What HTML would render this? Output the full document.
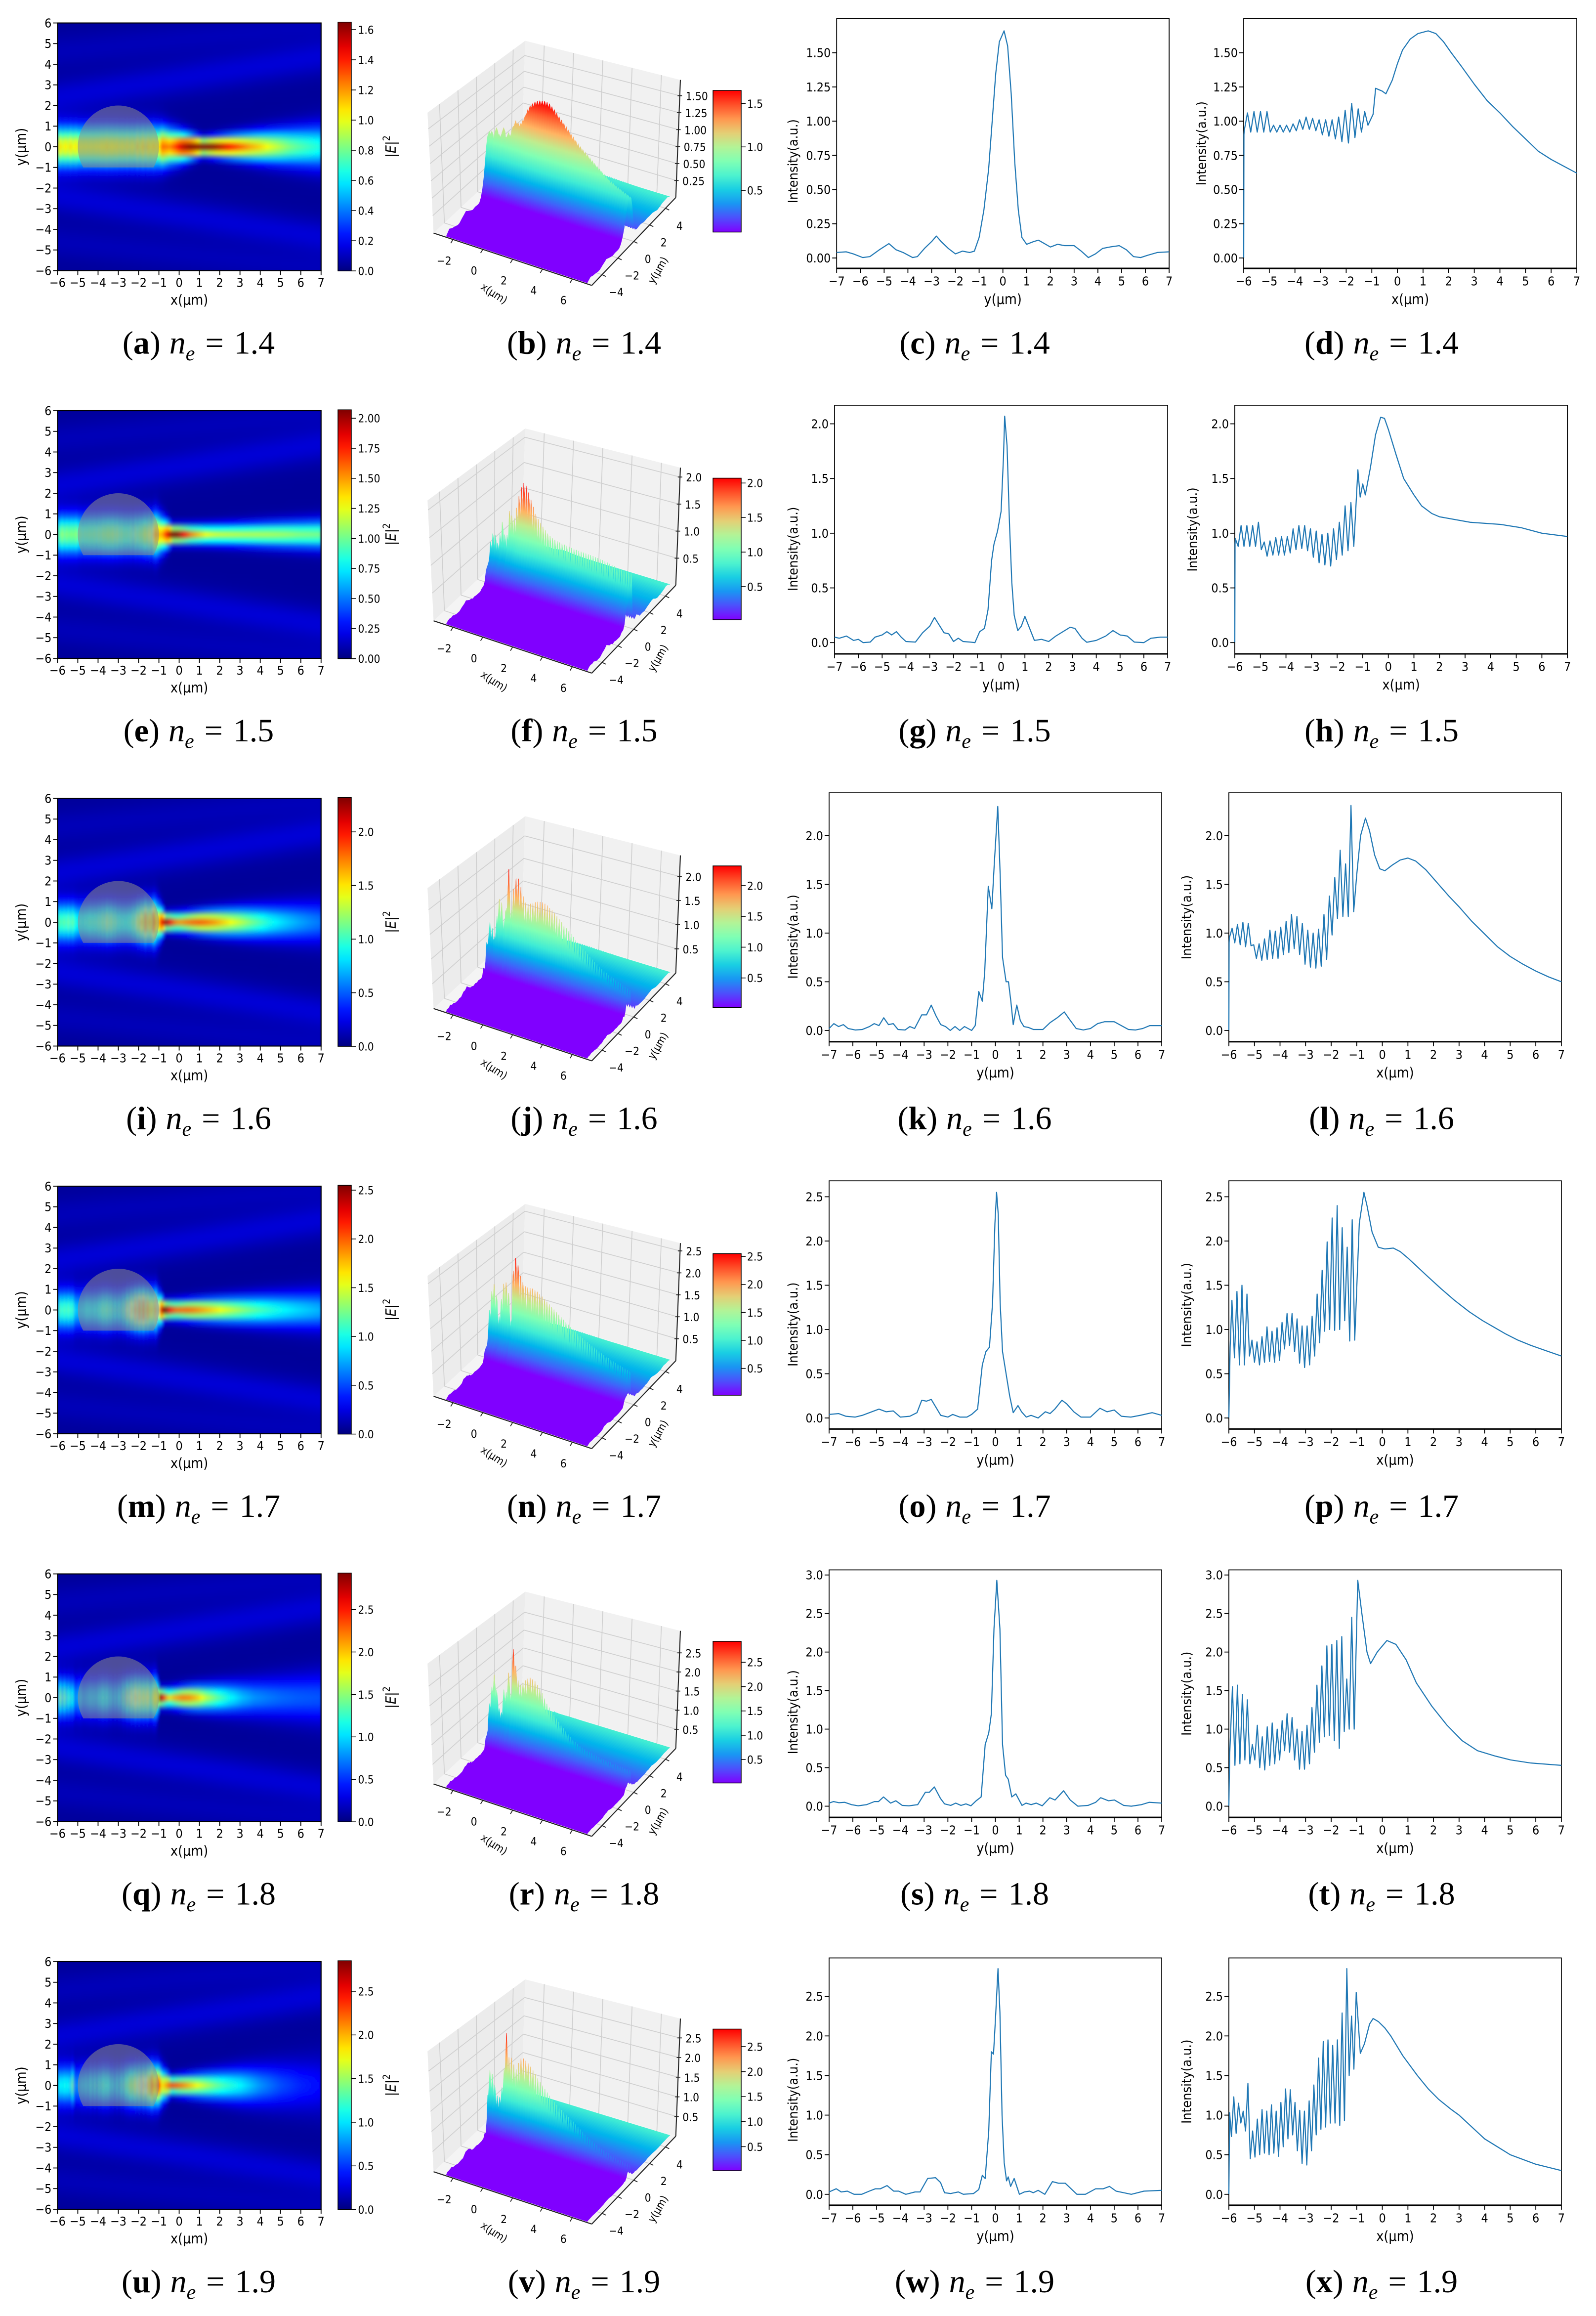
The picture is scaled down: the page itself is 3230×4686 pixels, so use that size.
<!DOCTYPE html>
<html><head><meta charset="utf-8">
<style>
html,body{margin:0;padding:0;background:#fff;}
svg{display:block;}
text{font-family:"DejaVu Sans Condensed","DejaVu Sans","Liberation Sans",sans-serif;fill:#000;}
.cap{font-family:"Liberation Serif",serif;}
</style></head>
<body>
<svg id="fig" xmlns="http://www.w3.org/2000/svg" width="3230" height="4686" viewBox="0 0 1076.667 1562">
<defs id="defs"></defs>
<rect x="0" y="0" width="1076.667" height="1562" fill="#ffffff"/>
</svg>
<script>
// ---------------- DATA ----------------
const neValues = [1.4, 1.5, 1.6, 1.7, 1.8, 1.9];
const captionLetters = [['a','b','c','d'],['e','f','g','h'],['i','j','k','l'],['m','n','o','p'],['q','r','s','t'],['u','v','w','x']];

// transverse profiles (y, intensity) - column c
const profC1 = [[-7,0.04],[-6.6,0.045],[-6.3,0.03],[-5.9,0.003],[-5.6,0.01],[-5.2,0.06],[-4.8,0.105],[-4.5,0.06],[-4.2,0.04],[-3.8,0.003],[-3.6,0.01],[-3.3,0.07],[-3.0,0.12],[-2.8,0.16],[-2.6,0.12],[-2.3,0.07],[-2.0,0.03],[-1.7,0.05],[-1.4,0.04],[-1.2,0.05],[-1.0,0.15],[-0.8,0.35],[-0.6,0.65],[-0.45,1.0],[-0.3,1.35],[-0.15,1.58],[0.05,1.66],[0.2,1.55],[0.35,1.2],[0.5,0.7],[0.65,0.35],[0.8,0.15],[1.0,0.1],[1.3,0.12],[1.5,0.13],[1.7,0.11],[2.0,0.08],[2.3,0.1],[2.6,0.09],[3.0,0.09],[3.3,0.05],[3.6,0.003],[3.9,0.03],[4.2,0.07],[4.5,0.08],[4.9,0.09],[5.2,0.06],[5.5,0.01],[5.8,0.003],[6.1,0.02],[6.5,0.04],[7,0.045]];
const profC2 = [[-7,0.05],[-6.8,0.04],[-6.5,0.06],[-6.2,0.02],[-6.0,0.03],[-5.8,0.0],[-5.5,0.005],[-5.3,0.05],[-5.0,0.07],[-4.8,0.1],[-4.6,0.07],[-4.4,0.1],[-4.2,0.05],[-4.0,0.01],[-3.6,0.005],[-3.3,0.09],[-3.0,0.15],[-2.8,0.23],[-2.6,0.16],[-2.4,0.09],[-2.2,0.08],[-2.0,0.01],[-1.8,0.04],[-1.6,0.01],[-1.3,0.005],[-1.1,0.0],[-0.9,0.1],[-0.7,0.13],[-0.55,0.3],[-0.4,0.75],[-0.3,0.9],[-0.15,1.02],[0.0,1.2],[0.1,1.7],[0.15,2.07],[0.25,1.8],[0.35,1.1],[0.45,0.55],[0.55,0.25],[0.7,0.11],[0.85,0.15],[1.0,0.24],[1.2,0.13],[1.4,0.02],[1.7,0.03],[2.0,0.01],[2.3,0.06],[2.6,0.1],[2.9,0.14],[3.1,0.13],[3.4,0.04],[3.6,0.003],[4.0,0.02],[4.4,0.06],[4.7,0.11],[5.0,0.07],[5.3,0.06],[5.6,0.005],[6.0,0.0],[6.3,0.04],[6.7,0.05],[7,0.05]];
const profC3 = [[-7,0.02],[-6.8,0.07],[-6.6,0.04],[-6.4,0.06],[-6.2,0.02],[-5.9,0.005],[-5.6,0.01],[-5.3,0.04],[-5.1,0.07],[-4.9,0.05],[-4.7,0.13],[-4.5,0.06],[-4.3,0.07],[-4.1,0.01],[-3.8,0.005],[-3.6,0.04],[-3.4,0.02],[-3.1,0.16],[-2.9,0.16],[-2.7,0.26],[-2.5,0.15],[-2.3,0.06],[-2.1,0.04],[-1.9,0.0],[-1.7,0.04],[-1.5,0.0],[-1.3,0.04],[-1.0,0.0],[-0.85,0.05],[-0.7,0.4],[-0.55,0.3],[-0.45,0.6],[-0.3,1.48],[-0.15,1.25],[-0.05,1.7],[0.1,2.3],[0.2,1.6],[0.3,0.75],[0.45,0.5],[0.55,0.5],[0.65,0.3],[0.75,0.06],[0.9,0.26],[1.05,0.1],[1.2,0.04],[1.4,0.03],[1.6,0.01],[2.0,0.01],[2.3,0.08],[2.6,0.13],[2.9,0.19],[3.1,0.12],[3.4,0.02],[3.7,0.005],[4.0,0.02],[4.3,0.07],[4.6,0.09],[5.0,0.09],[5.3,0.05],[5.6,0.01],[5.9,0.005],[6.2,0.02],[6.5,0.05],[7,0.05]];
const profC4 = [[-7,0.04],[-6.6,0.05],[-6.3,0.02],[-5.9,0.01],[-5.6,0.03],[-5.2,0.07],[-4.9,0.1],[-4.6,0.07],[-4.3,0.08],[-4.0,0.01],[-3.6,0.02],[-3.3,0.06],[-3.1,0.2],[-2.9,0.19],[-2.7,0.21],[-2.5,0.12],[-2.3,0.03],[-2.0,0.01],[-1.8,0.04],[-1.5,0.01],[-1.2,0.01],[-1.0,0.04],[-0.75,0.1],[-0.55,0.6],[-0.4,0.75],[-0.25,0.8],[-0.12,1.3],[-0.02,2.2],[0.05,2.55],[0.12,2.3],[0.2,1.3],[0.3,0.75],[0.45,0.5],[0.6,0.25],[0.75,0.06],[0.95,0.14],[1.1,0.07],[1.3,0.01],[1.5,0.03],[1.8,0.0],[2.1,0.07],[2.3,0.05],[2.5,0.1],[2.8,0.2],[3.0,0.16],[3.3,0.07],[3.6,0.01],[4.0,0.01],[4.4,0.11],[4.7,0.07],[5.0,0.09],[5.3,0.02],[5.7,0.01],[6.1,0.03],[6.6,0.06],[7,0.03]];
const profC5 = [[-7,0.04],[-6.81,0.06],[-6.59,0.045],[-6.34,0.05],[-6.06,0.02],[-5.78,0.005],[-5.42,0.02],[-5.09,0.06],[-4.92,0.06],[-4.71,0.12],[-4.41,0.04],[-4.19,0.07],[-3.92,0.01],[-3.64,0.005],[-3.27,0.02],[-2.95,0.18],[-2.78,0.18],[-2.57,0.25],[-2.31,0.1],[-2.14,0.03],[-1.88,0.01],[-1.67,0.04],[-1.45,0.01],[-1.24,0.03],[-1.03,0.005],[-0.81,0.07],[-0.6,0.12],[-0.43,0.8],[-0.28,0.95],[-0.17,1.2],[-0.06,2.3],[0.06,2.93],[0.19,2.3],[0.3,0.8],[0.43,0.4],[0.54,0.35],[0.69,0.12],[0.86,0.16],[1.12,0.01],[1.29,0.04],[1.5,0.02],[1.72,0.04],[1.97,0.005],[2.29,0.11],[2.51,0.08],[2.87,0.2],[3.15,0.08],[3.47,0.0],[3.9,0.01],[4.22,0.05],[4.43,0.11],[4.76,0.07],[5.01,0.08],[5.4,0.01],[5.72,0.0],[6.15,0.02],[6.47,0.05],[7,0.04]];
const profC6 = [[-7,0.03],[-6.7,0.07],[-6.49,0.03],[-6.23,0.04],[-5.95,0.0],[-5.63,0.0],[-5.31,0.04],[-5.05,0.07],[-4.84,0.07],[-4.56,0.11],[-4.28,0.04],[-4.07,0.04],[-3.77,0.0],[-3.38,0.03],[-3.17,0.03],[-2.85,0.2],[-2.52,0.21],[-2.31,0.15],[-2.14,0.02],[-1.88,0.01],[-1.56,0.03],[-1.35,0.0],[-0.92,0.01],[-0.7,0.06],[-0.55,0.24],[-0.43,0.2],[-0.28,0.8],[-0.17,1.8],[-0.08,1.77],[0.0,2.2],[0.11,2.85],[0.19,2.3],[0.28,1.0],[0.37,0.4],[0.47,0.17],[0.54,0.22],[0.64,0.1],[0.79,0.2],[1.01,0.0],[1.22,0.03],[1.44,0.04],[1.59,0.02],[1.8,0.05],[2.08,0.0],[2.4,0.16],[2.66,0.14],[2.94,0.14],[3.15,0.08],[3.43,0.0],[3.79,0.0],[4.22,0.07],[4.54,0.07],[4.8,0.1],[5.08,0.04],[5.4,0.02],[5.72,0.0],[6.25,0.04],[7,0.05]];

// longitudinal profiles - column d: head points, oscillation extremes (evenly spread over range), tail points
const dHead1 = [[-6,0],[-5.99,0.9]];
const dOsc1 = [0.93,1.06,0.92,1.07,0.92,1.07,0.92,1.07,0.92,0.97,0.92,0.97,0.92,0.97,0.92,0.98,0.93,1.01,0.94,1.03,0.94,1.02,0.93,1.01,0.90,1.01,0.89,1.01,0.87,1.03,0.85,1.08,0.84,1.13,0.88,1.09,0.92,1.07,0.97];
const dOscRange1 = [-5.98,-1.15];
const dTail1 = [[-0.95,1.05],[-0.85,1.24],[-0.6,1.22],[-0.45,1.2],[-0.2,1.3],[0,1.42],[0.2,1.52],[0.5,1.6],[0.8,1.64],[1.2,1.66],[1.5,1.64],[1.8,1.58],[2.1,1.5],[2.5,1.4],[3,1.27],[3.5,1.15],[4,1.06],[4.5,0.96],[5,0.87],[5.5,0.78],[6,0.72],[6.5,0.67],[7,0.62]];

const dHead2 = [[-6,0],[-5.99,0.9]];
const dOsc2 = [0.95,0.88,1.07,0.88,1.07,0.88,1.07,0.88,1.1,0.85,0.92,0.79,0.93,0.8,0.96,0.8,0.97,0.8,0.97,0.82,1.04,0.85,1.07,0.86,1.07,0.84,1.04,0.78,1.02,0.73,0.99,0.71,1.0,0.7,1.04,0.76,1.1,0.8,1.25,0.84,1.28,0.88];
const dOscRange2 = [-5.98,-1.35];
const dTail2 = [[-1.19,1.58],[-1.1,1.33],[-1.0,1.45],[-0.9,1.35],[-0.7,1.6],[-0.5,1.9],[-0.3,2.06],[-0.15,2.05],[0,1.95],[0.3,1.72],[0.6,1.5],[1.0,1.35],[1.3,1.25],[1.7,1.18],[2.0,1.15],[3.2,1.1],[4.4,1.08],[5.2,1.05],[6,1.0],[7,0.97]];

const dHead3 = [[-6,0],[-5.99,0.9]];
const dOsc3 = [0.95,1.05,0.9,1.09,0.88,1.11,0.86,1.1,0.87,0.88,0.74,0.89,0.72,0.94,0.73,1.03,0.74,1.02,0.74,1.06,0.78,1.12,0.8,1.19,0.84,1.17,0.78,1.1,0.68,1.03,0.65,1.0,0.64,1.04,0.66,1.19,0.73,1.38,0.98,1.57,1.15,1.85,1.17,1.71,1.17,2.31,1.22];
const dOscRange3 = [-5.98,-1.12];
const dTail3 = [[-1.0,1.6],[-0.85,2.0],[-0.66,2.18],[-0.5,2.05],[-0.3,1.8],[-0.1,1.66],[0.1,1.64],[0.4,1.7],[0.7,1.75],[1.0,1.77],[1.3,1.74],[1.7,1.65],[2.2,1.5],[2.6,1.38],[3,1.27],[3.5,1.12],[4,0.99],[4.5,0.86],[5,0.76],[5.5,0.68],[6,0.61],[6.5,0.55],[7,0.5]];

const dHead4 = [[-6,0],[-5.95,0.8]];
const dOsc4 = [1.33,0.68,1.43,0.6,1.5,0.6,1.4,0.7,0.88,0.63,0.86,0.6,0.92,0.63,1.03,0.64,0.98,0.63,1.02,0.65,1.08,0.78,1.18,0.82,1.18,0.75,1.12,0.62,1.04,0.57,1.04,0.6,1.15,0.7,1.4,0.85,1.67,0.98,1.99,1.0,2.26,0.99,2.4,1.0,2.15,1.1,1.93,0.87,2.24,0.88];
const dOscRange4 = [-5.88,-1.08];
const dTail4 = [[-0.9,2.2],[-0.72,2.55],[-0.6,2.4],[-0.4,2.1],[-0.16,1.93],[0.1,1.91],[0.43,1.92],[0.7,1.88],[1.03,1.8],[1.4,1.7],[1.77,1.6],[2.3,1.46],[2.82,1.33],[3.4,1.2],[3.92,1.1],[4.4,1.02],[4.82,0.95],[5.3,0.88],[5.81,0.82],[6.4,0.76],[7,0.7]];

const dHead5 = [[-6,0],[-5.97,0.65]];
const dOsc5 = [1.55,0.53,1.57,0.55,1.45,0.6,1.38,0.55,0.8,0.6,1.05,0.5,0.9,0.47,1.03,0.53,1.08,0.55,1.0,0.6,1.11,0.72,1.2,0.7,1.15,0.6,1.0,0.48,0.97,0.48,1.05,0.55,1.28,0.7,1.57,0.83,1.82,0.9,2.08,0.92,2.1,0.85,2.15,0.75,2.2,0.97,1.65,1.0,2.45,1.0];
const dOscRange5 = [-5.86,-1.1];
const dTail5 = [[-0.96,2.93],[-0.8,2.5],[-0.6,2.0],[-0.46,1.85],[-0.2,2.0],[0.18,2.15],[0.53,2.1],[0.93,1.9],[1.33,1.6],[1.93,1.3],[2.53,1.05],[3.12,0.85],[3.72,0.72],[4.42,0.65],[5.02,0.6],[5.81,0.56],[7,0.53]];

const dHead6 = [[-6,0],[-5.97,1.03]];
const dOsc6 = [0.73,1.23,0.77,1.15,0.9,1.05,0.8,1.4,0.45,0.8,0.47,0.95,0.5,1.07,0.52,1.05,0.5,1.13,0.52,1.05,0.48,1.16,0.6,1.33,0.7,1.32,0.75,1.16,0.55,1.06,0.39,1.05,0.37,1.18,0.55,1.38,0.75,1.72,0.82,1.93,0.85,1.95,0.9,1.88,0.9,1.95,0.87,2.29,0.93,2.85,1.5,2.25,1.58,2.55];
const dOscRange6 = [-5.9,-1.02];
const dTail6 = [[-0.86,1.78],[-0.7,1.9],[-0.5,2.15],[-0.36,2.22],[-0.15,2.18],[0.1,2.1],[0.33,2.0],[0.8,1.75],[1.37,1.5],[1.8,1.33],[2.2,1.2],[2.7,1.07],[3.0,1.0],[3.5,0.85],[4,0.7],[4.5,0.6],[5,0.5],[5.5,0.44],[6,0.38],[6.5,0.34],[7,0.3]];

// colour-scale maxima of the |E|^2 maps
const mapMax = [1.65, 2.07, 2.32, 2.55, 2.93, 2.85];
// tick specs [step, decimals, max]
const cdTickSpec = [[0.25,2,1.5],[0.5,1,2.0],[0.5,1,2.0],[0.5,1,2.5],[0.5,1,3.0],[0.5,1,2.5]];
const cbarTickSpec = [[0.2,1,1.6],[0.25,2,2.0],[0.5,1,2.0],[0.5,1,2.5],[0.5,1,2.5],[0.5,1,2.5]];
const zTickSpec = [[0.25,2,0.25,1.5],[0.5,1,0.5,2.0],[0.5,1,0.5,2.0],[0.5,1,0.5,2.5],[0.5,1,0.5,2.5],[0.5,1,0.5,2.5]];
const cbar3Ticks = [[0.5,1.0,1.5],[0.5,1.0,1.5,2.0],[0.5,1.0,1.5,2.0],[0.5,1.0,1.5,2.0,2.5],[0.5,1.0,1.5,2.0,2.5],[0.5,1.0,1.5,2.0,2.5]];
const beamSpread = [0.11,0.04,0.08,0.07,0.1,0.13];

// ---------------- LAYOUT (positions in 1/3-scale units) ----------------
const cdLayout = [
  {cx:[564.4,788.7], dx:[839,1063.7], top:12.4, bot:181, ylim:[-0.076,1.751]},
  {cx:[563,787.7], dx:[833,1057.4], top:273.3, bot:441, ylim:[-0.103,2.17]},
  {cx:[559.3,783.7], dx:[829,1053.3], top:534.7, bot:702.6, ylim:[-0.116,2.44]},
  {cx:[559.3,783.7], dx:[829,1053.3], top:796.4, bot:963.8, ylim:[-0.125,2.68]},
  {cx:[559.3,783.7], dx:[829,1053.3], top:1058.8, bot:1225.7, ylim:[-0.145,3.066]},
  {cx:[559.3,783.7], dx:[829,1053.3], top:1320.5, bot:1487.3, ylim:[-0.138,2.985]}
];
const profC = [profC1,profC2,profC3,profC4,profC5,profC6];
const dParts = [[dHead1,dOsc1,dOscRange1,dTail1],[dHead2,dOsc2,dOscRange2,dTail2],[dHead3,dOsc3,dOscRange3,dTail3],[dHead4,dOsc4,dOscRange4,dTail4],[dHead5,dOsc5,dOscRange5,dTail5],[dHead6,dOsc6,dOscRange6,dTail6]];

// ---------------- HELPERS ----------------
const NS = 'http://www.w3.org/2000/svg';
const svg = document.getElementById('fig');
const defs = document.getElementById('defs');
let gid = 0;
function raw(tag, parent, attrs){
  const el = document.createElementNS(NS, tag);
  for (const k in attrs) el.setAttribute(k, attrs[k]);
  parent.appendChild(el); return el;
}
function mk(tag, parent, name, attrs){
  const el = document.createElementNS(NS, tag);
  
  
  for (const k in attrs) el.setAttribute(k, attrs[k]);
  parent.appendChild(el); return el;
}
function txt(parent, name, x, y, s, size, anchor, extra){
  const el = document.createElementNS(NS, 'text');
  
  
  el.setAttribute('x', x); el.setAttribute('y', y);
  el.setAttribute('font-size', size);
  el.setAttribute('text-anchor', anchor || 'middle');
  if (extra) for (const k in extra) el.setAttribute(k, extra[k]);
  el.textContent = s; parent.appendChild(el); return el;
}
function fmt(v, d){ const s = Math.abs(v).toFixed(d); return (v < -1e-9 ? '\u2212' : '') + s; }
function clamp(v){ return Math.max(0, Math.min(1, v)); }
function jet(t){
  t = clamp(t);
  const r = clamp(Math.min(4*t-1.5, -4*t+4.5));
  const g = clamp(Math.min(4*t-0.5, -4*t+3.5));
  const b = clamp(Math.min(4*t+0.5, -4*t+2.5));
  return 'rgb(' + Math.round(r*255) + ',' + Math.round(g*255) + ',' + Math.round(b*255) + ')';
}
function rainbow(t){
  t = clamp(t);
  const r = clamp(Math.abs(2*t-0.5)), g = clamp(Math.sin(Math.PI*t)), b = clamp(Math.cos(Math.PI*t/2));
  return 'rgb(' + Math.round(r*255) + ',' + Math.round(g*255) + ',' + Math.round(b*255) + ')';
}
function interp(pts, x){
  if (x <= pts[0][0]) return pts[0][1];
  for (let i = 1; i < pts.length; i++){
    if (x <= pts[i][0]){
      const a = pts[i-1], b = pts[i];
      return a[1] + (b[1]-a[1]) * (x-a[0]) / (b[0]-a[0]);
    }
  }
  return pts[pts.length-1][1];
}
function buildD(head, osc, range, tail){
  const pts = head.slice();
  const n = osc.length;
  for (let i = 0; i < n; i++) pts.push([range[0] + (range[1]-range[0]) * i/(n-1), osc[i]]);
  return pts.concat(tail);
}
function ticksFrom(step, dec, mx, start){
  const out = []; let v = start || 0;
  while (v <= mx + 1e-9){ out.push([v, fmt(v, dec)]); v += step; }
  return out;
}

// ---------------- DRAW ----------------
for (let k = 0; k < 6; k++){
  const rowTop = 15.5 + 261.5*k;
  const row = mk('g', svg, 'row-ne-' + neValues[k], {});
  const dPts = buildD(...dParts[k]);
  const cPts = profC[k];
  const vmax = mapMax[k];

  // ---- panel a: field map ----
  {
    const pa = mk('g', row, 'field-map-panel', {});
    const X0 = 38.8, X1 = 216.6, Y0 = rowTop, Y1 = rowTop + 167;
    const sx = x => X0 + (x+6)/13*(X1-X0);
    const sy = y => Y0 + (6-y)/12*(Y1-Y0);
    const cid = 'clipA' + k;
    const cp = raw('clipPath', defs, {id: cid});
    raw('rect', cp, {x:X0, y:Y0, width:X1-X0, height:Y1-Y0});
    const fid = 'blurA' + k;
    const fl = raw('filter', defs, {id: fid, x:'-5%', y:'-5%', width:'110%', height:'110%'});
    raw('feGaussianBlur', fl, {stdDeviation: '0.9'});
    const clipG = mk('g', pa, 'field-map-area', {'clip-path':'url(#' + cid + ')'});
    mk('rect', clipG, 'field-map-background', {x:X0, y:Y0, width:X1-X0, height:Y1-Y0, fill: jet(0.03)});
    const heat = mk('g', clipG, 'field-map-heat', {filter:'url(#' + fid + ')'});
    let fx = dParts[k][3][0][0], fv = -1;
    for (const p of dParts[k][3]) if (p[1] > fv){ fv = p[1]; fx = p[0]; }
    const xa = -1.1;
    for (let x = -6; x < 7 - 1e-9; x += 0.1){
      const xc = x + 0.05;
      const dv = interp(dPts, xc);
      let w;
      if (xc < xa) w = 0.95;
      else if (xc < fx) w = 0.95 + (0.35-0.95) * (xc-xa)/(fx-xa);
      else w = 0.35 + beamSpread[k]*(xc-fx);
      const gidS = 'hg' + (gid++);
      const lg = raw('linearGradient', defs, {id:gidS, gradientUnits:'userSpaceOnUse', x1:0, y1:Y0, x2:0, y2:Y1});
      for (let yy = 6; yy >= -6.001; yy -= 0.3){
        const lobeC1 = 2.4 + 0.15*(xc+6), lobeC2 = 4.6 + 0.1*(xc+6);
        const lob = 0.06*vmax*(Math.exp(-Math.pow((Math.abs(yy)-lobeC1)/0.8,2))) + 0.03*vmax*(Math.exp(-Math.pow((Math.abs(yy)-lobeC2)/0.8,2)));
        const I = dv*Math.exp(-Math.pow(yy/w,2)) + lob + 0.025*vmax;
        raw('stop', lg, {offset: ((6-yy)/12).toFixed(4), 'stop-color': jet(I/vmax)});
      }
      mk('rect', heat, 'field-column', {x: sx(x)-0.15, y: Y0-3, width: sx(x+0.1)-sx(x)+0.3, height: Y1-Y0+6, fill:'url(#' + gidS + ')'});
    }
    const lx1 = -3 - Math.sqrt(3), lx2 = -3 + Math.sqrt(3);
    const rx = 2/13*(X1-X0), ry = 2/12*(Y1-Y0);
    mk('path', clipG, 'lens-overlay', {d:'M' + sx(lx1) + ',' + sy(-1) + ' A' + rx + ',' + ry + ' 0 1 1 ' + sx(lx2) + ',' + sy(-1) + ' Z', fill:'rgba(140,140,140,0.55)'});
    mk('rect', pa, 'field-map-frame', {x:X0, y:Y0, width:X1-X0, height:Y1-Y0, fill:'none', stroke:'#000', 'stroke-width':0.7});
    const ax = mk('g', pa, 'field-map-x-axis', {});
    for (let t = -6; t <= 7; t++){
      mk('line', ax, 'x-tick', {x1:sx(t), x2:sx(t), y1:Y1, y2:Y1+3, stroke:'#000', 'stroke-width':0.6});
      txt(ax, 'x-tick-label', sx(t), Y1+11, fmt(t,0), 8.3);
    }
    txt(ax, 'x-axis-title', (X0+X1)/2, Y1+23, 'x(\u03bcm)', 9.5);
    const ay = mk('g', pa, 'field-map-y-axis', {});
    for (let t = -6; t <= 6; t++){
      mk('line', ay, 'y-tick', {x1:X0-3, x2:X0, y1:sy(t), y2:sy(t), stroke:'#000', 'stroke-width':0.6});
      txt(ay, 'y-tick-label', X0-4, sy(t)+3, fmt(t,0), 8.3, 'end');
    }
    txt(ay, 'y-axis-title', 17.5, (Y0+Y1)/2, 'y(\u03bcm)', 9.5, 'middle', {transform:'rotate(-90 17.5 ' + ((Y0+Y1)/2) + ')'});
    const cb = mk('g', pa, 'field-colorbar', {});
    const CB0 = rowTop - 0.6, CB1 = rowTop + 167.2;
    const cgid = 'cbj' + k;
    const cg = raw('linearGradient', defs, {id:cgid, x1:0, y1:1, x2:0, y2:0});
    for (let i = 0; i <= 20; i++) raw('stop', cg, {offset: i/20, 'stop-color': jet(i/20)});
    mk('rect', cb, 'colorbar-gradient', {x:228, y:CB0, width:9, height:CB1-CB0, fill:'url(#' + cgid + ')', stroke:'#000', 'stroke-width':0.5});
    const spec = cbarTickSpec[k];
    for (const [v, lab] of ticksFrom(spec[0], spec[1], spec[2])){
      const yy = CB1 - v/vmax*(CB1-CB0);
      mk('line', cb, 'colorbar-tick', {x1:237, x2:240, y1:yy, y2:yy, stroke:'#000', 'stroke-width':0.5});
      txt(cb, 'colorbar-tick-label', 241.5, yy+2.8, lab, 7.5, 'start');
    }
    const lt = txt(cb, 'colorbar-title', 267, (CB0+CB1)/2, '', 9.5, 'middle', {transform:'rotate(-90 267 ' + ((CB0+CB1)/2) + ')'});
    lt.innerHTML = '|<tspan font-style="italic">E</tspan>|<tspan font-size="6.5" dy="-4">2</tspan>';
  }

  // ---- panel b: 3D surface ----
  {
    const pb = mk('g', row, 'surface-3d-panel', {});
    const R = (p) => [p[0], p[1] + rowTop];
    const FL = R([292.5,141.7]), F = R([399.2,177]), RF = R([455.9,117.7]), BK = R([352,86]);
    const L = R([288.4,60.5]), FT = R([400.5,97]), RT = R([459,38.4]), T = R([354.3,12]);
    const xmin=-3.3, xmax=7.3, ymin=-5.3, ymax=5.3;
    const ztop = vmax*1.05;
    const bil = (A,B,C,D,u,v) => [ (1-u)*(1-v)*A[0]+u*(1-v)*B[0]+u*v*C[0]+(1-u)*v*D[0], (1-u)*(1-v)*A[1]+u*(1-v)*B[1]+u*v*C[1]+(1-u)*v*D[1] ];
    const P = (x,y,z) => {
      const u=(x-xmin)/(xmax-xmin), v=(y-ymin)/(ymax-ymin);
      const f = bil(FL,F,RF,BK,u,v), t = bil(L,FT,RT,T,u,v);
      const s = z/ztop; return [f[0]+(t[0]-f[0])*s, f[1]+(t[1]-f[1])*s];
    };
    const poly = pts => pts.map(p => p[0].toFixed(2) + ',' + p[1].toFixed(2)).join(' ');
    mk('polygon', pb, 'left-pane', {points: poly([FL,BK,T,L]), fill:'#ececec'});
    mk('polygon', pb, 'back-pane', {points: poly([BK,RF,RT,T]), fill:'#f1f1f1'});
    mk('polygon', pb, 'floor-pane', {points: poly([FL,F,RF,BK]), fill:'#f4f4f4'});
    const grid = mk('g', pb, 'pane-grid', {stroke:'#cfcfcf', 'stroke-width':0.55, fill:'none'});
    const xt = [-2,0,2,4,6], yt = [-4,-2,0,2,4];
    const zs = zTickSpec[k]; const zt = ticksFrom(zs[0], zs[1], zs[3], zs[2]);
    const ln = (a,b,n) => mk('line', grid, n, {x1:a[0], y1:a[1], x2:b[0], y2:b[1]});
    for (const x of xt){ ln(P(x,ymin,0),P(x,ymax,0),'floor-grid-line'); ln(P(x,ymax,0),P(x,ymax,ztop),'back-grid-line'); }
    for (const y of yt){ ln(P(xmin,y,0),P(xmax,y,0),'floor-grid-line'); ln(P(xmin,y,0),P(xmin,y,ztop),'left-grid-line'); }
    for (const [z] of zt){ ln(P(xmin,ymin,z),P(xmin,ymax,z),'left-grid-line'); ln(P(xmin,ymax,z),P(xmax,ymax,z),'back-grid-line'); }
    // surface strips (back to front)
    const surf = mk('g', pb, 'surface', {});
    let cmax = 0; for (const p of cPts) cmax = Math.max(cmax, p[1]);
    const ys = [-5.2];
    for (const p of cPts){ if (p[0] > -5.2 && p[0] < 5.2) ys.push(p[0]); }
    ys.push(5.2);
    const zOf = (x, y) => { if (Math.abs(y) >= 5.19) return 0; return interp(dPts, x) * interp(cPts, y) / cmax; };
    let prev = null;
    for (let x = -2.5; x <= 7.001; x += 0.16){
      const cur = ys.map(y => P(x, y, zOf(x, y)));
      if (prev){
        const pts = cur.concat(prev.slice().reverse());
        const b0 = P(x,0,0), b1 = P(x,0,vmax);
        const sid = 'sg' + (gid++);
        const lg = raw('linearGradient', defs, {id:sid, gradientUnits:'userSpaceOnUse', x1:0, y1:b0[1], x2:0, y2:b1[1]});
        for (let i = 0; i <= 8; i++) raw('stop', lg, {offset: i/8, 'stop-color': rainbow(i/8)});
        mk('polygon', surf, 'surface-strip', {points: poly(pts), fill:'url(#' + sid + ')', stroke:'url(#' + sid + ')', 'stroke-width':0.3});
      }
      prev = cur;
    }
    const ed = mk('g', pb, 'axis-edges', {stroke:'#222', 'stroke-width':0.7});
    mk('line', ed, 'x-axis-edge', {x1:FL[0], y1:FL[1], x2:F[0], y2:F[1]});
    mk('line', ed, 'y-axis-edge', {x1:F[0], y1:F[1], x2:RF[0], y2:RF[1]});
    mk('line', ed, 'z-axis-edge', {x1:RF[0], y1:RF[1], x2:RT[0], y2:RT[1]});
    const lb = mk('g', pb, 'surface-axis-labels', {});
    for (const x of xt){ const p = P(x,ymin,0);
      mk('line', lb, 'x-tick', {x1:p[0], y1:p[1], x2:p[0]-1.5, y2:p[1]+2.5, stroke:'#222', 'stroke-width':0.6});
      txt(lb, 'x-tick-label', p[0]-6, p[1]+17, fmt(x,0), 7.5); }
    for (const y of yt){ const p = P(xmax,y,0);
      mk('line', lb, 'y-tick', {x1:p[0], y1:p[1], x2:p[0]+2.5, y2:p[1]+1.2, stroke:'#222', 'stroke-width':0.6});
      txt(lb, 'y-tick-label', p[0]+9.5, p[1]+14.5, fmt(y,0), 7.5); }
    for (const [z, lab] of zt){ const p = P(xmax,ymax,z);
      mk('line', lb, 'z-tick', {x1:p[0]-1.5, y1:p[1], x2:p[0]+1.5, y2:p[1], stroke:'#222', 'stroke-width':0.6});
      txt(lb, 'z-tick-label', p[0]+4, p[1]+3, lab, 7.5, 'start'); }
    const xl = [332, rowTop+184.5];
    txt(lb, 'x-axis-title', xl[0], xl[1], 'x(\u03bcm)', 7.3, 'middle', {transform:'rotate(33 ' + xl[0] + ' ' + xl[1] + ')'});
    const yl = [446, rowTop+168];
    txt(lb, 'y-axis-title', yl[0], yl[1], 'y(\u03bcm)', 7.3, 'middle', {transform:'rotate(-60 ' + yl[0] + ' ' + yl[1] + ')'});
    const cb = mk('g', pb, 'surface-colorbar', {});
    const C0 = rowTop + 45.5, C1 = rowTop + 141;
    const rgid = 'cbr' + k;
    const rg = raw('linearGradient', defs, {id:rgid, x1:0, y1:1, x2:0, y2:0});
    for (let i = 0; i <= 10; i++) raw('stop', rg, {offset:i/10, 'stop-color': rainbow(i/10)});
    mk('rect', cb, 'colorbar-gradient', {x:481, y:C0, width:19, height:C1-C0, fill:'url(#' + rgid + ')', stroke:'#000', 'stroke-width':0.5});
    const zmin = 0.02;
    for (const v of cbar3Ticks[k]){
      const yy = C1 - (v-zmin)/(vmax-zmin)*(C1-C0);
      mk('line', cb, 'colorbar-tick', {x1:500, x2:503, y1:yy, y2:yy, stroke:'#000', 'stroke-width':0.5});
      txt(cb, 'colorbar-tick-label', 504, yy+2.8, v.toFixed(1), 7.5, 'start');
    }
    txt(cb, 'colorbar-title', 538, (C0+C1)/2, 'Intensity(a.u.)', 9, 'middle', {transform:'rotate(-90 538 ' + ((C0+C1)/2) + ')'});
  }

  // ---- panels c and d: line profiles ----
  const lay = cdLayout[k];
  [['c', lay.cx, cPts, [-7,7], 'y(\u03bcm)', 'transverse-profile-panel'], ['d', lay.dx, dPts, [-6,7], 'x(\u03bcm)', 'longitudinal-profile-panel']].forEach(([id, xr, pts, xlim, xlab, pname]) => {
    const g = mk('g', row, pname, {});
    const X0 = xr[0], X1 = xr[1], Y0 = lay.top, Y1 = lay.bot;
    const sx = x => X0 + (x-xlim[0])/(xlim[1]-xlim[0])*(X1-X0);
    const sy = v => Y1 - (v-lay.ylim[0])/(lay.ylim[1]-lay.ylim[0])*(Y1-Y0);
    mk('rect', g, 'plot-frame', {x:X0, y:Y0, width:X1-X0, height:Y1-Y0, fill:'none', stroke:'#000', 'stroke-width':0.6});
    mk('line', g, 'bottom-spine', {x1:X0, x2:X1, y1:Y1, y2:Y1, stroke:'#000', 'stroke-width':1.0});
    const d = pts.map((p,i) => (i ? 'L' : 'M') + sx(p[0]).toFixed(2) + ',' + sy(p[1]).toFixed(2)).join(' ');
    mk('path', g, 'intensity-line', {d:d, fill:'none', stroke:'#1f77b4', 'stroke-width':0.75, 'stroke-linejoin':'round'});
    const ax = mk('g', g, 'x-axis', {});
    for (let t = xlim[0]; t <= xlim[1]; t++){
      mk('line', ax, 'x-tick', {x1:sx(t), x2:sx(t), y1:Y1, y2:Y1+3, stroke:'#000', 'stroke-width':0.6});
      txt(ax, 'x-tick-label', sx(t), Y1+11.5, fmt(t,0), 8.3);
    }
    txt(ax, 'x-axis-title', (X0+X1)/2, Y1+24, xlab, 9.5);
    const ay = mk('g', g, 'y-axis', {});
    const ts = cdTickSpec[k];
    for (const [v, lab] of ticksFrom(ts[0], ts[1], ts[2])){
      mk('line', ay, 'y-tick', {x1:X0-3, x2:X0, y1:sy(v), y2:sy(v), stroke:'#000', 'stroke-width':0.6});
      txt(ay, 'y-tick-label', X0-4, sy(v)+3, lab, 8.3, 'end');
    }
    if (id === 'd'){
      const yc = (Y0+Y1)/2;
      txt(ay, 'y-axis-title', X0-25.5, yc, 'Intensity(a.u.)', 9, 'middle', {transform:'rotate(-90 ' + (X0-25.5) + ' ' + yc + ')'});
    }
  });

  // ---- captions ----
  const capX = [134, 394, 657.5, 932];
  for (let j = 0; j < 4; j++){
    const t = txt(row, 'caption-' + captionLetters[k][j], capX[j], rowTop + 223, '', 22, 'middle', {class:'cap'});
    t.innerHTML = '(<tspan font-weight="bold">' + captionLetters[k][j] + '</tspan>)<tspan font-style="italic" dx="6">n</tspan><tspan font-style="italic" font-size="14" dy="4.5">e</tspan><tspan dy="-4.5" dx="7">=</tspan><tspan dx="7">' + neValues[k].toFixed(1) + '</tspan>';
  }
}
</script>
</body></html>
